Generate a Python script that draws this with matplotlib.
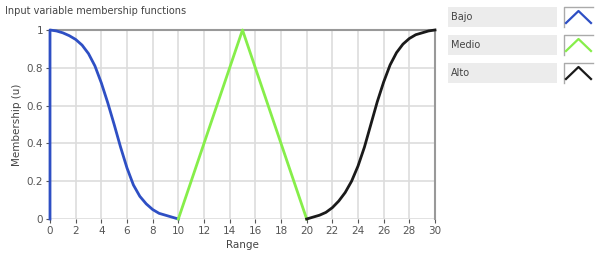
import matplotlib.pyplot as plt
from matplotlib.patches import Rectangle
from matplotlib.lines import Line2D

# membership functions
bajo_x = [0, 0, 0.5, 1, 1.5, 2, 2.5, 3, 3.5, 4, 4.5, 5, 5.5, 6, 6.5, 7, 7.5, 8, 8.5, 9, 9.5, 10]
bajo_y = [0, 1.0, 0.995, 0.985, 0.97, 0.95, 0.92, 0.875, 0.81, 0.72, 0.615, 0.5, 0.38, 0.27, 0.18,
          0.12, 0.08, 0.05, 0.03, 0.02, 0.01, 0.0]

medio_x = [10, 15, 20]
medio_y = [0, 1, 0]

alto_x = [20, 20.5, 21, 21.5, 22, 22.5, 23, 23.5, 24, 24.5, 25, 25.5, 26, 26.5, 27, 27.5, 28,
          28.5, 29, 29.5, 30]
alto_y = [0.0, 0.01, 0.02, 0.035, 0.06, 0.095, 0.14, 0.2, 0.28, 0.38, 0.5, 0.62, 0.725, 0.815,
          0.88, 0.925, 0.955, 0.975, 0.985, 0.995, 1.0]

names = ['Bajo', 'Medio', 'Alto']
colors = ['#2e4fc4', '#86ee4a', '#1a1a1a']

xticks = list(range(0, 31, 2))
yticks = [0, 0.2, 0.4, 0.6, 0.8, 1]
ytick_labels = ['0', '0.2', '0.4', '0.6', '0.8', '1']

fig = plt.figure(figsize=(5.95, 2.7), dpi=100)
ax = fig.add_axes([50 / 595, 1 - 219 / 270, 385 / 595, 189 / 270])

# grid + frame
ax.set_xlim(0, 30)
ax.set_ylim(0, 1)
ax.set_xticks(xticks)
ax.set_yticks(yticks)
ax.set_yticklabels(ytick_labels)
ax.tick_params(labelsize=7.5, colors='#555555', length=3, width=0.8, pad=2)
ax.grid(True, color='#dddddd', lw=1.2)
ax.set_axisbelow(True)
for side in ['left', 'bottom']:
    ax.spines[side].set_visible(False)
for side in ['top', 'right']:
    ax.spines[side].set_color('#999999')
    ax.spines[side].set_linewidth(1.5)

# the three curves
ax.plot(bajo_x, bajo_y, color=colors[0], lw=2, clip_on=False, solid_joinstyle='round', zorder=3)
ax.plot(medio_x, medio_y, color=colors[1], lw=2, clip_on=False, zorder=3)
ax.plot(alto_x, alto_y, color=colors[2], lw=2, clip_on=False, solid_joinstyle='round', zorder=3)

ax.set_xlabel('Range', fontsize=7.5, color='#444444', labelpad=3)
ax.set_ylabel('Membership (u)', fontsize=7.5, color='#444444', labelpad=3)
fig.text(5 / 595, 1 - 11 / 270, 'Input variable membership functions', fontsize=7,
         color='#444444', va='center', ha='left')

# legend on the right
rows_top = [7, 35, 63]
for name, col, top in zip(names, colors, rows_top):
    h = 20
    y0 = 1 - (top + h) / 270
    fig.patches.append(Rectangle((448 / 595, y0), 109 / 595, h / 270,
                                 transform=fig.transFigure, color='#ececec', lw=0))
    fig.text(451 / 595, y0 + h / 2 / 270, name, fontsize=7, color='#444444',
             va='center', ha='left')
    bx0, bx1 = 564 / 595, 593 / 595
    by1 = 1 - top / 270
    fig.lines.append(Line2D([bx0, bx0, bx1], [y0, by1, by1], transform=fig.transFigure,
                            color='#aaaaaa', lw=1))
    fig.lines.append(Line2D([bx0 + 2 / 595, (bx0 + bx1) / 2, bx1 - 2 / 595],
                            [y0 + 4 / 270, by1 - 4 / 270, y0 + 4 / 270],
                            transform=fig.transFigure, color=col, lw=1.6))

fig.savefig('out.png', dpi=100)
